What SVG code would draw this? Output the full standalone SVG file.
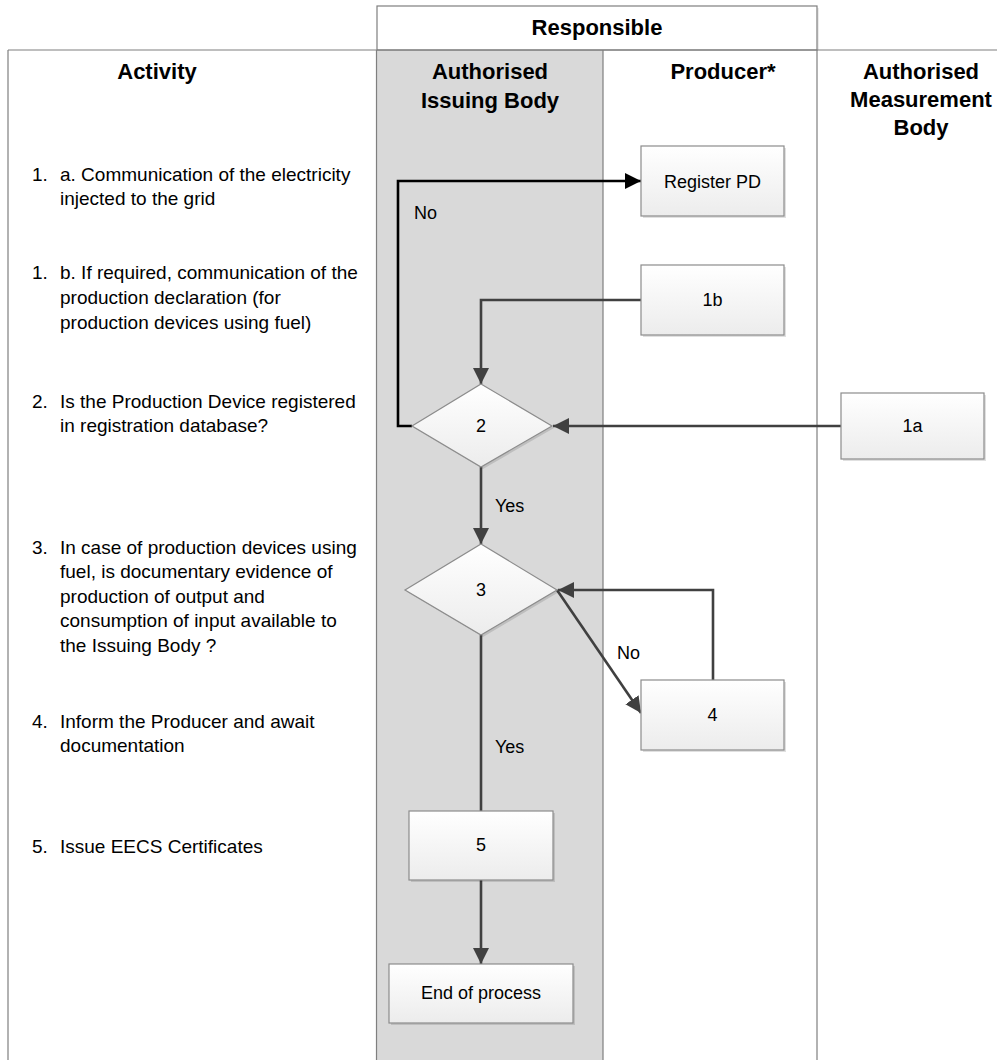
<svg xmlns="http://www.w3.org/2000/svg" width="997" height="1060" viewBox="0 0 997 1060">
<style>
.lane{stroke:#7f7f7f;stroke-width:1.2;fill:none}
.hdr{font-family:"Liberation Sans",Arial,sans-serif;font-weight:bold;font-size:22px;fill:#000;text-anchor:middle}
.act{font-family:"Liberation Sans",Arial,sans-serif;font-size:19px;fill:#000}
.lbl{font-family:"Liberation Sans",Arial,sans-serif;font-size:18px;fill:#000;text-anchor:middle}
.cl{font-family:"Liberation Sans",Arial,sans-serif;font-size:18px;fill:#000}
.box{fill:url(#g);stroke:#8c8c8c;stroke-width:1.2}
.sh{fill:#000;opacity:0.12}
.con{fill:none;stroke:#404040;stroke-width:2.6}
.conk{fill:none;stroke:#000;stroke-width:2.6}
</style>
<defs>
<linearGradient id="g" x1="0" y1="0" x2="0" y2="1">
<stop offset="0" stop-color="#ffffff"/>
<stop offset="1" stop-color="#ececec"/>
</linearGradient>
<marker id="a" markerUnits="userSpaceOnUse" markerWidth="18" markerHeight="16" refX="16" refY="8" orient="auto">
<path d="M0,0 L16,8 L0,16 Z" fill="#404040"/>
</marker>
<marker id="ak" markerUnits="userSpaceOnUse" markerWidth="18" markerHeight="16" refX="16" refY="8" orient="auto">
<path d="M0,0 L16,8 L0,16 Z" fill="#000"/>
</marker>
</defs>
<rect width="997" height="1060" fill="#fff"/>
<g id="lanes">
<rect x="377" y="50" width="226" height="1010" fill="#d9d9d9"/>
<rect x="379" y="8" width="440" height="42" fill="#000" opacity="0.08"/>
<rect x="377" y="6" width="440" height="44" style="fill:#fff;stroke:#7f7f7f;stroke-width:1.2"/>
<line x1="8" y1="50" x2="997" y2="50" class="lane"/>
<line x1="8" y1="50" x2="8" y2="1060" class="lane"/>
<line x1="376.5" y1="50" x2="376.5" y2="1060" class="lane"/>
<line x1="603" y1="50" x2="603" y2="1060" class="lane"/>
<line x1="817" y1="50" x2="817" y2="1060" class="lane"/>
</g>
<g id="headers">
<text class="hdr" x="597" y="35">Responsible</text>
<text class="hdr" x="157" y="79">Activity</text>
<text class="hdr" x="490" y="79">Authorised</text>
<text class="hdr" x="490" y="108">Issuing Body</text>
<text class="hdr" x="723" y="79">Producer*</text>
<text class="hdr" x="921" y="79">Authorised</text>
<text class="hdr" x="921" y="107">Measurement</text>
<text class="hdr" x="921" y="135">Body</text>
</g>
<g id="activities">
<text class="act" x="32" y="181">1.</text>
<text class="act" x="60" y="181">a. Communication of the electricity</text>
<text class="act" x="60" y="205">injected to the grid</text>
<text class="act" x="32" y="279">1.</text>
<text class="act" x="60" y="279">b. If required, communication of the</text>
<text class="act" x="60" y="304">production declaration (for</text>
<text class="act" x="60" y="329">production devices using fuel)</text>
<text class="act" x="32" y="408">2.</text>
<text class="act" x="60" y="408">Is the Production Device registered</text>
<text class="act" x="60" y="432">in registration database?</text>
<text class="act" x="32" y="554">3.</text>
<text class="act" x="60" y="554">In case of production devices using</text>
<text class="act" x="60" y="578">fuel, is documentary evidence of</text>
<text class="act" x="60" y="603">production of output and</text>
<text class="act" x="60" y="627">consumption of input available to</text>
<text class="act" x="60" y="652">the Issuing Body ?</text>
<text class="act" x="32" y="728">4.</text>
<text class="act" x="60" y="728">Inform the Producer and await</text>
<text class="act" x="60" y="752">documentation</text>
<text class="act" x="32" y="853">5.</text>
<text class="act" x="60" y="853">Issue EECS Certificates</text>
</g>
<g id="connectors">
<polyline class="conk" points="412,426 398,426 398,181 641,181" marker-end="url(#ak)"/>
<polyline class="con" points="641,300 481,300 481,384" marker-end="url(#a)"/>
<line class="con" x1="841" y1="426" x2="553" y2="426" marker-end="url(#a)"/>
<line class="con" x1="481" y1="467" x2="481" y2="544" marker-end="url(#a)"/>
<line class="con" x1="557" y1="590" x2="641" y2="713" marker-end="url(#a)"/>
<polyline class="con" points="713,680 713,590 558,590" marker-end="url(#a)"/>
<line class="con" x1="481" y1="635" x2="481" y2="811"/>
<line class="con" x1="481" y1="880" x2="481" y2="964" marker-end="url(#a)"/>
<text class="cl" x="414" y="219">No</text>
<text class="cl" x="495" y="512">Yes</text>
<text class="cl" x="617" y="659">No</text>
<text class="cl" x="495" y="753">Yes</text>
</g>
<g id="node-registerpd">
<rect class="sh" x="643" y="148" width="143" height="70"/>
<rect class="box" x="641" y="146" width="143" height="70"/>
<text class="lbl" x="712.5" y="188">Register PD</text>
</g>
<g id="node-1b">
<rect class="sh" x="643" y="267" width="143" height="70"/>
<rect class="box" x="641" y="265" width="143" height="70"/>
<text class="lbl" x="712.5" y="306">1b</text>
</g>
<g id="node-1a">
<rect class="sh" x="843" y="395" width="143" height="66"/>
<rect class="box" x="841" y="393" width="143" height="66"/>
<text class="lbl" x="912.5" y="432">1a</text>
</g>
<g id="node-2">
<polygon class="sh" points="483,386 554,428 483,469 414,428"/>
<polygon class="box" points="481,384 552,426 481,467 412,426"/>
<text class="lbl" x="481" y="432">2</text>
</g>
<g id="node-3">
<polygon class="sh" points="483,546 559,592 483,637 407,592"/>
<polygon class="box" points="481,544 557,590 481,635 405,590"/>
<text class="lbl" x="481" y="596">3</text>
</g>
<g id="node-4">
<rect class="sh" x="643" y="682" width="143" height="70"/>
<rect class="box" x="641" y="680" width="143" height="70"/>
<text class="lbl" x="712.5" y="721">4</text>
</g>
<g id="node-5">
<rect class="sh" x="411" y="813" width="144" height="69"/>
<rect class="box" x="409" y="811" width="144" height="69"/>
<text class="lbl" x="481" y="851">5</text>
</g>
<g id="node-end">
<rect class="sh" x="391" y="966" width="184" height="59"/>
<rect class="box" x="389" y="964" width="184" height="59"/>
<text class="lbl" x="481" y="999">End of process</text>
</g>
</svg>
